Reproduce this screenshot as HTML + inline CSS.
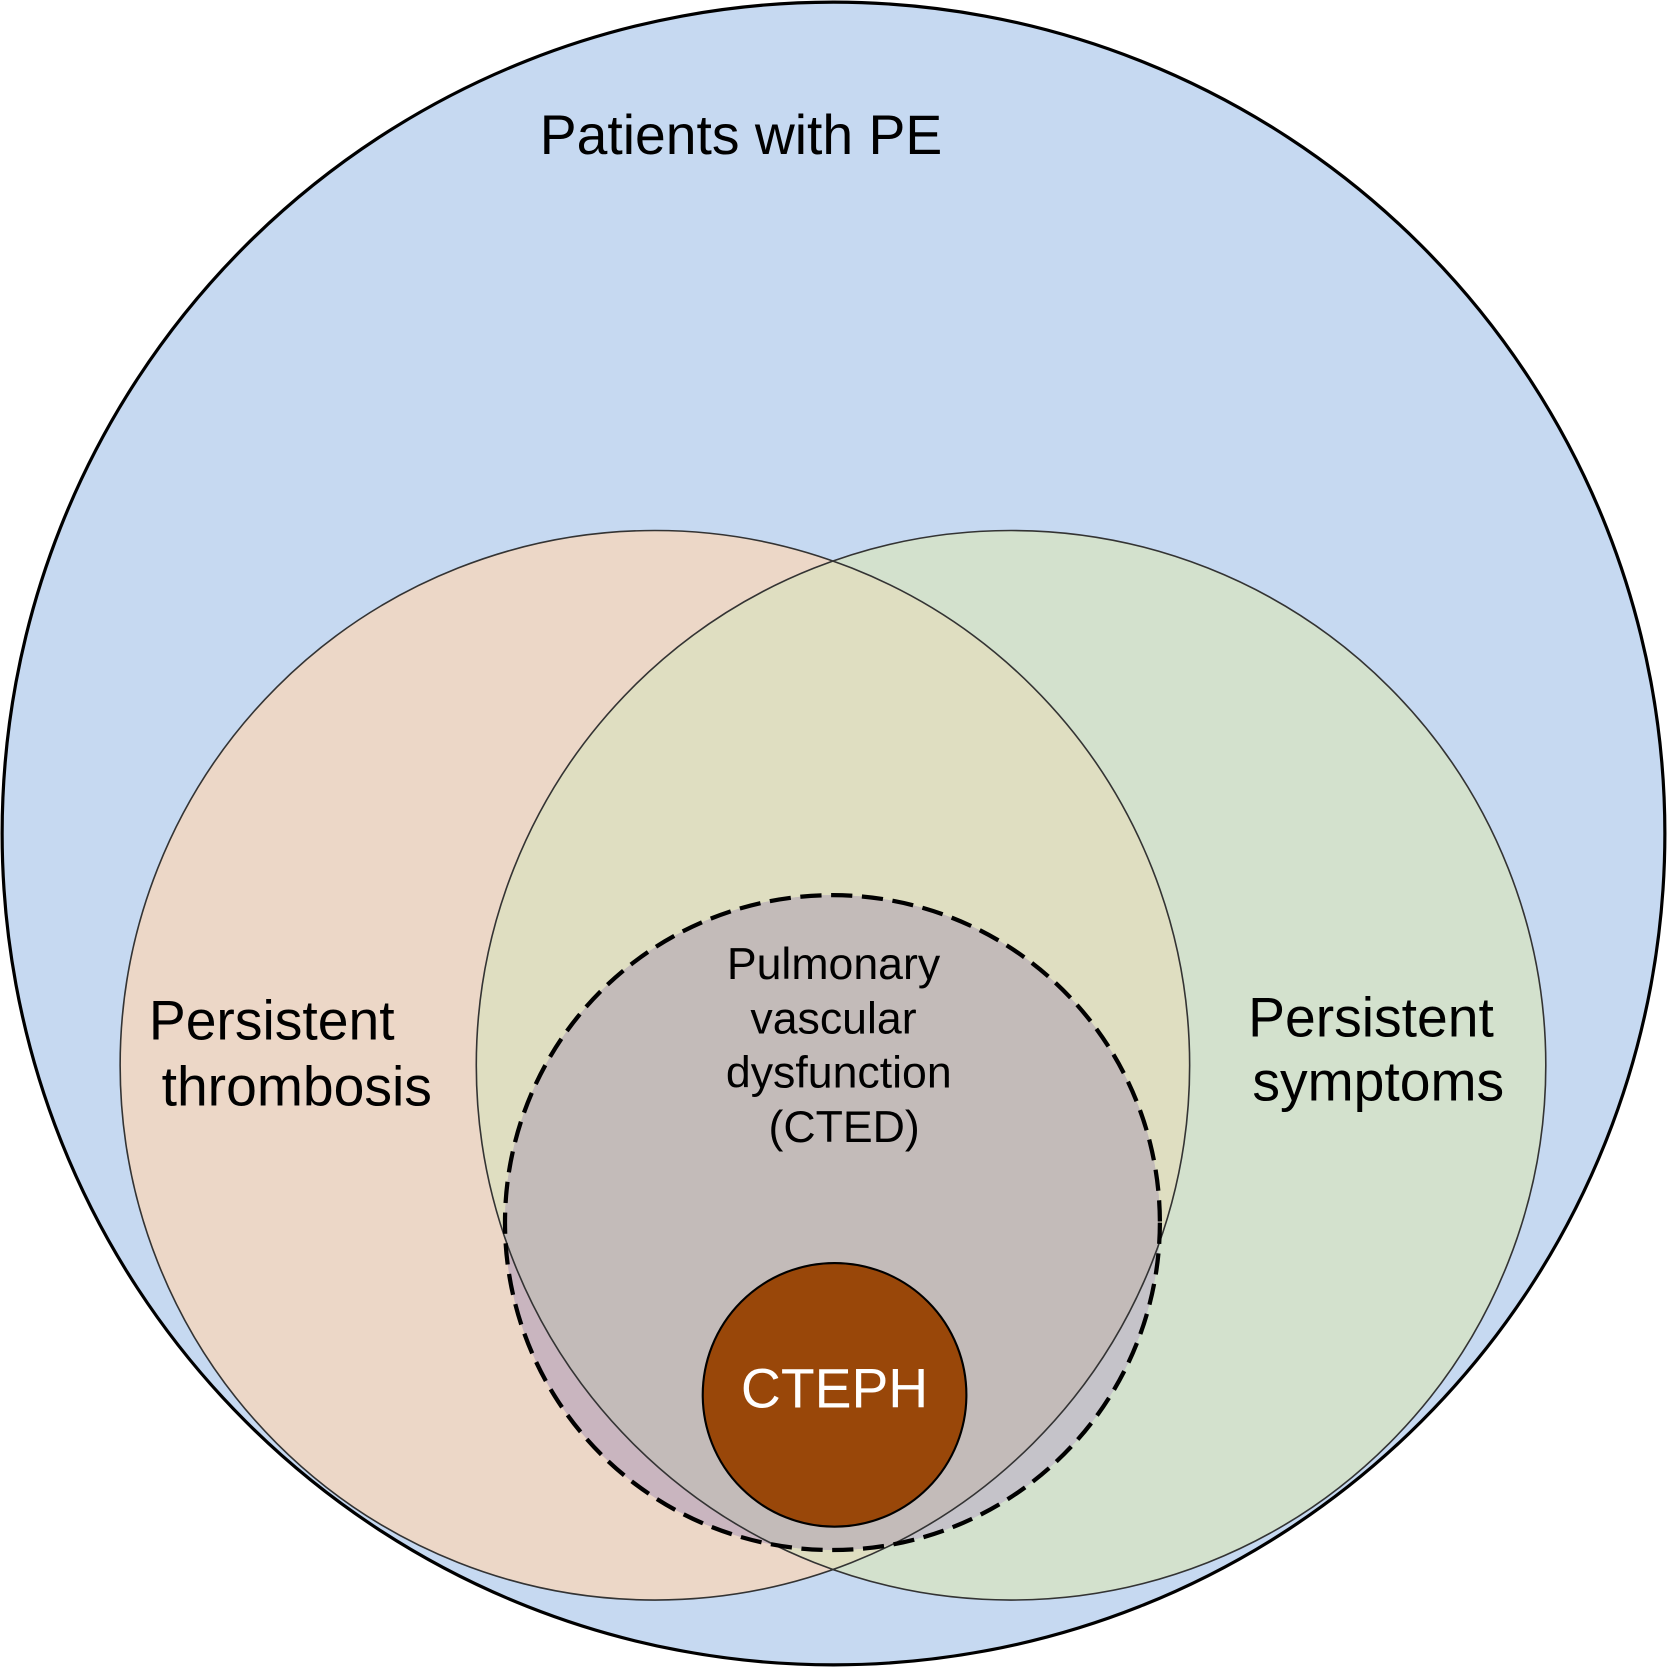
<!DOCTYPE html>
<html><head><meta charset="utf-8"><style>html,body{margin:0;padding:0;background:#fff}svg{display:block}</style></head>
<body>
<svg width="1667" height="1667" viewBox="0 0 1568 1568" xmlns="http://www.w3.org/2000/svg" font-family="Liberation Sans, sans-serif">
<defs>
<clipPath id="cl"><circle cx="616" cy="1002" r="503"/></clipPath>
<clipPath id="cr"><circle cx="951" cy="1002" r="503"/></clipPath>
</defs>
<circle cx="784" cy="784" r="782" fill="#c6d9f1" stroke="#000" stroke-width="3"/>
<circle cx="616" cy="1002" r="503" fill="#ecd7c7"/>
<circle cx="951" cy="1002" r="503" fill="#d3e1cd"/>
<g clip-path="url(#cl)"><circle cx="951" cy="1002" r="503" fill="#dfdec1"/></g>
<g clip-path="url(#cl)"><circle cx="783" cy="1150" r="308" fill="#c9b5bf"/></g>
<g clip-path="url(#cr)"><circle cx="783" cy="1150" r="308" fill="#c5c3c9"/></g>
<g clip-path="url(#cl)"><g clip-path="url(#cr)"><circle cx="783" cy="1150" r="308" fill="#c3bbb9"/></g></g>
<circle cx="616" cy="1002" r="503" fill="none" stroke="#333" stroke-width="1.5"/>
<circle cx="951" cy="1002" r="503" fill="none" stroke="#333" stroke-width="1.5"/>
<circle cx="783" cy="1150" r="308" fill="none" stroke="#000" stroke-width="4" stroke-dasharray="20,9"/>
<circle cx="785" cy="1312" r="124" fill="#994709" stroke="#000" stroke-width="2"/>
<g font-size="52" fill="#000">
<text x="697" y="145" text-anchor="middle">Patients with PE</text>
<text x="140" y="978">Persistent</text>
<text x="152" y="1040">thrombosis</text>
<text x="1174" y="975">Persistent</text>
<text x="1178" y="1035">symptoms</text>
</g>
<g font-size="42" fill="#000" text-anchor="middle">
<text x="784" y="921">Pulmonary</text>
<text x="784" y="972">vascular</text>
<text x="789" y="1023">dysfunction</text>
<text x="794" y="1074">(CTED)</text>
</g>
<text x="785" y="1324" font-size="52" fill="#fff" text-anchor="middle">CTEPH</text>
</svg>
</body></html>
